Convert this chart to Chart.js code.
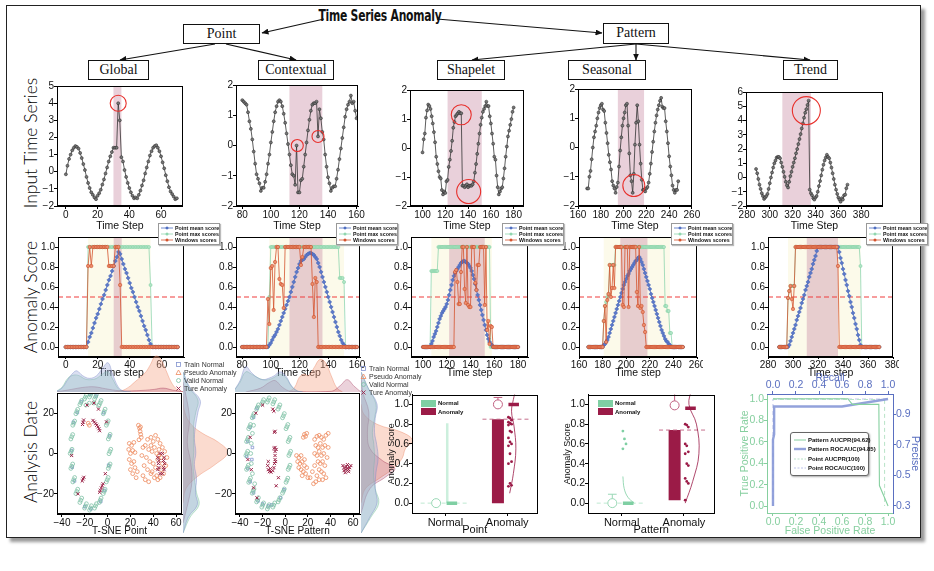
<!DOCTYPE html>
<html>
<head>
<meta charset="utf-8">
<script src="https://cdn.jsdelivr.net/npm/chart.js@4.4.1/dist/chart.umd.min.js"></script>
<style>
  html, body { margin: 0; padding: 0; background: #fff; }
  #stage { position: relative; width: 934px; height: 571px; overflow: hidden; font-family: 'Liberation Sans', Arial, sans-serif; color: #111; }
  #stage canvas, .abs { position: absolute; }
  .frame { left: 6px; top: 5px; width: 913px; height: 531px; border: 1px solid #222; box-shadow: 4px 4px 3px #9a9a9a; }
  .node { border: 1px solid #111; background: #fff; font-family: 'Liberation Serif', serif; font-size: 14px; text-align: center; box-sizing: border-box; height: 20px; line-height: 18px; }
  .rowlab { font-family: Lato, 'Liberation Sans', sans-serif; font-weight: 300; font-size: 17.5px; transform: translate(-50%, -50%) rotate(-90deg); white-space: nowrap; color: #000; }
  .lg { background: #fff; font-weight: bold; white-space: nowrap; }
  .lg > div { display: flex; align-items: center; }
  .lg svg { flex: none; }
</style>
</head>
<body>
<div id="stage">
  <div class="abs frame"></div>
  <svg class="abs" style="left:0;top:0" width="934" height="90">
    <defs>
      <marker id="ah" markerWidth="7" markerHeight="6" refX="6.5" refY="3" orient="auto" markerUnits="userSpaceOnUse">
        <path d="M0,0 L7,3 L0,6 z" fill="#111"/>
      </marker>
    </defs>
    <g stroke="#111" stroke-width="1.1">
      <line x1="324" y1="19" x2="262" y2="33" marker-end="url(#ah)"/>
      <line x1="437" y1="19" x2="602" y2="33" marker-end="url(#ah)"/>
      <line x1="215" y1="44" x2="120" y2="60" marker-end="url(#ah)"/>
      <line x1="226" y1="44" x2="296" y2="60" marker-end="url(#ah)"/>
      <line x1="636" y1="44" x2="472" y2="60" marker-end="url(#ah)"/>
      <line x1="636" y1="44" x2="636" y2="60" marker-end="url(#ah)"/>
      <line x1="636" y1="44" x2="810" y2="60" marker-end="url(#ah)"/>
    </g>
  </svg>
  <div class="abs" style="left:300px;top:7px;width:160px;text-align:center;font:bold 15px 'Liberation Sans Narrow','DejaVu Sans Condensed',sans-serif;letter-spacing:-0.3px;transform:scaleX(0.8)">Time Series Anomaly</div>
  <div class="abs node" style="left:183px;top:24px;width:77px">Point</div>
  <div class="abs node" style="left:603px;top:23px;width:66px;height:21px">Pattern</div>
  <div class="abs node" style="left:88px;top:60px;width:61px">Global</div>
  <div class="abs node" style="left:258px;top:60px;width:76px">Contextual</div>
  <div class="abs node" style="left:437px;top:60px;width:68px">Shapelet</div>
  <div class="abs node" style="left:568px;top:60px;width:78px">Seasonal</div>
  <div class="abs node" style="left:783px;top:60px;width:55px">Trend</div>
  <div class="abs rowlab" style="left:30px;top:143px">Input Time Series</div>
  <div class="abs rowlab" style="left:30px;top:297px">Anomaly Score</div>
  <div class="abs rowlab" style="left:30px;top:452px">Analysis Date</div>
</div>
<script>
// ---------------- data: input time series ----------------
const globalStart = 0;
const globalSeries = [-0.15,0.35,0.75,1.0,1.25,1.4,1.5,1.45,1.35,1.1,
  0.8,0.45,0.1,-0.3,-0.65,-0.95,-1.2,-1.35,-1.5,-1.6,
  -1.4,-1.25,-1.05,-0.75,-0.45,-0.1,0.25,0.6,0.9,1.15,
  1.4,1.4,1.4,4.0,3.0,0.85,0.6,0.1,-0.3,-0.65,
  -0.95,-1.2,-1.4,-1.55,-1.5,-1.55,-1.35,-1.1,-0.8,-0.5,
  -0.1,0.25,0.6,0.95,1.2,1.4,1.5,1.55,1.4,1.2,
  0.9,0.55,0.2,-0.2,-0.55,-0.9,-1.15,-1.3,-1.45,-1.6,-1.55];
const contextStart = 80;
const contextSeries = [1.5,1.45,1.4,1.35,1.1,0.8,0.55,0.2,-0.2,-0.6,
  -0.95,-1.1,-1.25,-1.5,-1.4,-1.4,-1.2,-0.95,-0.6,-0.3,
  0.1,0.45,0.8,1.1,1.3,1.45,1.5,1.45,1.3,1.05,
  0.75,0.4,0.05,-0.3,-0.65,-0.95,-1.0,-1.3,0.0,-1.55,
  -1.55,-1.15,-1.1,-0.7,-0.3,0.1,0.5,0.85,1.15,1.35,
  1.4,1.4,1.45,0.3,1.2,0.9,0.45,0.2,-0.3,-0.7,
  -1.05,-1.25,-1.5,-1.4,-1.35,-1.35,-1.1,-0.8,-0.45,-0.1,
  0.25,0.6,0.95,1.2,1.35,1.45,1.65,1.4,1.45,1.15,0.9];
const shapeletStart = 100;
const shapeletSeries = [-0.15,0.3,0.5,1.05,1.3,1.5,1.45,1.35,1.1,0.85,
  0.55,0.2,-0.3,-0.55,-0.8,-1.0,-1.05,-1.45,-1.6,-1.5,
  -1.55,-1.15,-1.1,-0.65,-0.4,-0.1,0.25,0.7,0.9,1.1,
  1.15,1.2,1.25,1.2,1.2,-1.3,-1.3,-1.35,-1.3,-1.25,
  -1.35,-1.3,-1.3,-1.3,-1.25,-1.15,-0.85,-0.55,-0.2,0.15,
  0.5,0.8,1.05,1.25,1.35,1.45,1.6,1.45,1.45,1.1,
  0.85,0.5,0.15,-0.3,-0.4,-0.95,-1.35,-1.6,-1.5,-1.4,
  -1.35,-1.05,-0.7,-0.3,0.05,0.4,0.6,0.8,1.0,1.25,1.4];
const seasonalStart = 168;
const seasonalSeries = [-1.4,-1.4,-1.0,-0.8,-0.4,0.0,0.35,0.55,0.75,1.0,
  1.2,1.35,1.45,1.5,1.3,1.25,0.85,0.5,0.15,-0.25,
  -0.5,-0.75,-1.15,-1.3,-1.4,-1.55,-1.35,-1.2,-0.65,-0.1,
  0.35,0.75,1.0,1.2,1.45,1.5,0.75,-0.2,-0.95,-1.15,
  -1.55,-0.9,0.1,0.85,1.45,0.9,0.1,-0.55,-1.1,-1.45,
  -1.45,-1.5,-1.4,-1.35,-1.2,-0.9,-0.55,-0.15,0.2,0.55,
  0.85,1.1,1.3,1.45,1.6,1.7,1.4,1.35,1.35,0.9,
  0.55,0.15,-0.3,-0.65,-0.95,-1.3,-1.45,-1.55,-1.45,-1.45,-1.15];
const trendStart = 288;
const trendSeries = [0.6,0.3,-0.1,-0.5,-0.8,-1.1,-1.3,-1.5,-1.4,-1.3,
  -1.15,-0.8,-0.4,0.0,0.35,0.7,1.0,1.2,1.4,1.45,
  1.45,1.35,1.05,0.75,0.4,0.05,-0.3,-0.55,-0.7,-0.3,
  0.1,0.4,0.75,1.05,1.35,1.7,2.0,2.35,2.7,3.05,
  3.45,3.8,4.2,4.55,4.8,5.1,5.4,-0.85,-1.1,-1.25,
  -1.45,-1.55,-1.4,-1.3,-1.0,-0.6,-0.25,0.15,0.55,0.9,
  1.2,1.4,1.6,1.45,1.35,1.05,0.7,0.3,-0.1,-0.5,
  -0.85,-1.15,-1.4,-1.55,-1.7,-1.45,-1.55,-1.25,-1.2,-0.75,-0.5];

// anomaly windows (pink) and circled anomalies [x, y]
const globalBand = [30, 35], contextBand = [113, 136], shapeletBand = [122, 152], seasonalBand = [195, 218], trendBand = [311, 336];
const globalMarks = [[33, 4.0]];
const contextMarks = [[118.5, 0.0], [133, 0.3]];
const shapeletMarks = [[134, 1.15], [140.5, -1.5]];
const seasonalMarks = [[209, -1.3]];
const trendMarks = [[332, 4.7]];

// ---------------- data: anomaly scores ----------------
const threshold = 0.5;
const scoreTicks = [0, 0.2, 0.4, 0.6, 0.8, 1.0];
const globalScoreStart = 0, contextScoreStart = 80, shapeletScoreStart = 100, seasonalScoreStart = 168, trendScoreStart = 289;
const globalSpread = [14, 53], contextSpread = [99, 151], shapeletSpread = [107, 158], seasonalSpread = [181, 237], trendSpread = [296, 354];

const globalMean = [0,0,0,0,0,0,0,0,0,0, 0,0,0,0,
  0.05,0.1,0.14,0.19,0.24,0.29,0.33,0.38,0.43,0.48,0.52,0.57,0.62,0.67,0.71,0.76,0.81,0.86,0.9,0.95,
  0.93,0.88,0.83,0.78,0.74,0.69,0.64,0.59,0.55,0.5,0.45,0.4,0.36,0.31,0.26,0.21,0.17,0.12,0.07,0.03,
  0,0,0,0,0,0,0,0,0,0, 0,0,0,0,0,0,0];
const globalMax = [0,0,0,0,0,0,0,0,0,0, 0,0,0,0,
  1,1,1,1,1,1,1,1,1,1, 1,1,1,1,1,1,1,1,1,1, 1,1,1,1,1,1,1,1,1,1, 1,1,1,1,1,1,1,1,1,
  0.62,
  0,0,0,0,0,0,0,0,0,0, 0,0,0,0,0,0,0];
const globalWin = [0,0,0,0,0,0,0,0,0,0, 0,0,0,0,
  0.81,1,0.81, 1,1,1,1,1,1,1,1,1,1, 0.81,0.81,0.81,0.81, 1,1,1, 0.62,
  0,0,0,0,0,0,0,0,0,0, 0,0,0,0,0,0,0,0,0,0, 0,0,0,0,0,0,0,0,0,0, 0,0,0,0,0,0];

const contextMean = [0,0,0,0,0,0,0,0,0,0, 0,0,0,0,0,0,0,0,0,
  0.02,0.04,0.07,0.1,0.12,0.15,0.18,0.22,0.26,0.3,0.34,0.38,0.42,0.46,0.5,0.55,0.6,0.65,0.7,0.75,
  0.79,0.83,0.86,0.87,0.88,0.9,0.92,0.93,0.94,0.94,0.93,0.92,0.9,0.88,0.84,0.8,0.75,0.7,0.65,0.6,
  0.55,0.5,0.45,0.4,0.35,0.3,0.25,0.2,0.15,0.11,0.07,0.04,0.02,
  0,0,0,0,0,0,0,0,0];
const contextMax = [0,0,0,0,0,0,0,0,0,0, 0,0,0,0,0,0,0,0,0,
  0.5,
  1,1,1,1,1,1,1,1,1,1, 1,1,1,1,1,1,1,1,1,1, 1,1,1,1,1,1,1,1,1,1, 1,1,1,1,1,1,1,1,1,1, 1,1,1,1,1,1,1,1,
  0.69,0.69,0.69,0.65,
  0,0,0,0,0,0,0,0,0];
const contextWin = [0,0,0,0,0,0,0,0,0,0, 0,0,0,0,0,0,0,0,
  0.48,0.23,0.79,0.81,0.37,0.85,1,1,0.68,0.63,0.62,0.39,1,
  1,1,1,1,1,1,1,1,1,1, 0.82,0.9, 1,1,1,1,1,1, 0.63,0.3,0.69,0.65,
  0,0,0,0,0,0,0,0,0,0, 0,0,0,0,0,0,0,0,0,0, 0,0,0,0,0,0,0,0];

const shapeletMean = [0,0,0,0,0,0,0,
  0.03,0.06,0.1,0.13,0.16,0.2,0.24,0.28,0.31,0.34,0.36,0.38,0.4,0.43,0.47,0.52,0.57,0.62,
  0.67,0.71,0.74,0.76,0.78,0.8,0.82,0.84,0.85,0.86,0.86,0.85,0.84,0.83,0.81,0.79,0.76,0.72,
  0.68,0.63,0.57,0.52,0.47,0.42,0.37,0.32,0.27,0.22,0.17,0.12,0.08,0.05,0.03,0.02,
  0,0,0,0,0,0,0,0,0,0, 0,0,0,0,0,0,0,0,0,0, 0,0];
const shapeletMax = [0,0,0,0,0,0,0,
  0.76,0.76,0.76,0.76,0.76,0.76,
  1,1,1,1,1,1,1,1,1,1, 1,1,1,1,1,1,1,1,1,1, 1,1,1,1,1,1,1,1,1,1, 1,1,1,1,1,1,1,1,1,1, 1,1,1,1,
  0,0,0,0,0,0,0,0,0,0, 0,0,0,0,0,0,0,0,0,0, 0,0,0,0];
const shapeletWin = [0,0,0,0,0,0,0,0,0,0, 0,0,0,0,0,0,0,0,0,0, 0,0,0,0,0,0,0,
  0.75,0.77,0.65,0.43,0.43,0.75,1,1,0.58,0.44,1,0.42,0.4,0.4,1,1,1,0.64,0.57,0.82,0.82,1,1,1,1,0.42,1,0.17,0.26,0.03,0.21,0.2,
  0,0,0,0,0,0,0,0,0,0, 0,0,0,0,0,0,0,0,0,0, 0,0];

const seasonalMean = [0,0,0,0,0,0,0,0,0,0, 0,0,0,
  0.02,0.03,0.05,0.07,0.1,0.14,0.18,0.22,0.26,0.3,0.34,0.38,0.42,0.46,0.5,0.54,0.58,0.62,0.65,0.68,
  0.71,0.73,0.76,0.78,0.8,0.82,0.84,0.86,0.87,0.89,0.9,
  0.88,0.85,0.82,0.78,0.74,0.7,0.66,0.62,0.58,0.53,0.49,0.45,0.41,0.37,0.33,0.29,0.25,0.21,0.17,
  0.14,0.11,0.08,0.06,0.05,0.03,0.02,
  0,0,0,0,0,0,0,0,0,0, 0];
const seasonalMax = [0,0,0,0,0,0,0,0,0,0, 0,0,0,
  0.26,0.41,0.45,0.5,0.53,0.82,0.82,0.82,0.82,0.82,
  1,1,1,1,1,1,1,1,1,1, 1,1,1,1,1,1,1,1,1,1, 1,1,1,1,1,1,1,1,1,1, 1,1,1,1,1,1,1,1,1,1, 1,1,
  0.41,0.41,0.36,0.36,0.14,0.14,
  0,0,0,0,0,0,0,0,0,0];
const seasonalWin = [0,0,0,0,0,0,0,0,0,0, 0,0,0,
  0.26,0.41,0.05,0.47,0.53,0.82,0.5,0.59,0.82,0.59,
  1,1,1,1,1,1, 0.42,0.4, 1,1,1, 0.4, 1,1,1,1,1,1, 0.55,0.41, 1, 0.39,0.41,0.35,0.22,0.15,
  0,0,0,0,0,0,0,0,0,0, 0,0,0,0,0,0,0,0,0,0, 0,0,0,0,0,0,0,0,0,0, 0,0];

const trendMean = [0,0,0,0,0,0,0,0,
  0.02,0.06,0.1,0.14,0.18,0.22,0.27,0.31,0.35,0.39,0.44,0.48,0.52,0.57,0.61,0.65,0.7,0.74,0.78,0.83,0.87,0.91,0.96,1.0,
  1,1,1,1,1,1,1,1,1,1, 1,1,1,1,1,1,
  0.95,0.89,0.84,0.78,0.73,0.67,0.62,0.56,0.51,0.45,0.4,0.34,0.29,0.23,0.18,0.12,0.07,0.02,
  0,0,0,0,0,0,0,0,0,0, 0,0,0,0,0];
const trendMax = [0,0,0,0,0,0,0,
  0.49,0.56,0.61,0.61,0.61,0.61,
  1,1,1,1,1,1,1,1,1,1, 1,1,1,1,1,1,1,1,1,1, 1,1,1,1,1,1,1,1,1,1, 1,1,1,1,1,1,1,1,1,1, 1,1,1,1,1,1,1,1,1,1, 1,1,
  0.81,
  0,0,0,0,0,0,0,0,0,0, 0,0,0,0,0];
const trendWin = [0,0,0,0,0,0,0,
  0.49,0.56,0.61,0.48,0.38,0.61,
  1,1,1,1,1,1,1,1,1,1, 1,1,1,1,1,1,1,1,1,1, 1,1,1,1,1,1,1,1,1,1, 1,1,1,1,
  0.81,
  0,0,0,0,0,0,0,0,0,0, 0,0,0,0,0,0,0,0,0,0, 0,0,0,0,0,0,0,0,0,0, 0,0,0];

// ---------------- data: t-SNE ----------------
const tsneXTicks = [-40, -20, 0, 20, 40, 60];
const tsneYTicks = [-20, 0, 20];
const pointValid = [[1.4,8.3],[2.2,9.5],[0.6,7.2],[-0.3,15],[0.5,16.2],[-1.1,14],[-3,20.8],[-2.2,22],[-3.8,19.7],
  [-6.5,25.2],[-5.7,26.3],[-7.3,24.2],[-10.6,28],[-9.8,29.2],[-11.4,27],[-15,29],[-14.2,30],[-15.8,28],
  [-19.4,28],[-18.6,29.1],[-20.2,27],[-23.5,25.2],[-22.7,26.3],[-24.3,24.2],[-27,20.8],[-26.2,21.9],[-27.8,19.7],
  [-29.7,15],[-28.9,16.1],[-30.5,14],[-31.4,8.3],[-30.6,9.4],[-32.2,7.2],[-32,1],[-31.2,2.1],[-32.8,0],
  [-31.4,-6.3],[-30.6,-5.2],[-32.2,-7.4],[-29.7,-13],[-28.9,-11.9],[-30.5,-14.1],[-27,-18.8],[-26.2,-17.7],[-27.8,-19.9],
  [-23.5,-23.2],[-22.7,-22.1],[-24.3,-24.3],[-19.4,-26],[-18.6,-24.9],[-20.2,-27.1],[-15,-27],[-14.2,-25.9],[-15.8,-28.1],
  [-10.6,-26],[-9.8,-24.9],[-11.4,-27.1],[-6.5,-23.2],[-5.7,-22.1],[-7.3,-24.3],[-3,-18.8],[-2.2,-17.7],[-3.8,-19.9],
  [-0.3,-13],[0.5,-11.9],[-1.1,-14.1],[1.4,-6.3],[2.2,-5.2],[0.6,-7.4],[2,1],[2.8,2.1],[1.2,-0.1],
  [-19,24],[-16,25],[-12,25],[-8,23.8]];
const pointTrain = [[-31.5,1.5],[-30,15.5],[-26.5,20.3],[-10,28.5],[-3.4,20.2],[0.9,-5.8],[-6,-23.8],[-20,-26.4],
  [-29,-13.6],[1.8,8.8],[-23,25.7],[-15.5,29.5],[-31,-6.8],[-2.6,-18.3],[-14.6,-27.5]];
const pointPseudo = [[27,14],[28,12.5],[28.5,11],[29,9.5],[29.5,8],[28.8,13.2],[27.5,6.8],[19,5],[21,4],[23,5.5],
  [18.5,2],[20,0],[22,1.5],[24,0.5],[19,-3],[21,-5],[23,-4],[20,-8],[22,-10],[24,-7],[25,-12],[26,-9],
  [33,4],[35,7],[38,8],[40,6],[42,9],[44,7],[46,5],[48,3],[36,2],[39,1],[41,3],[43,0],[45,-1],[50,1],[52,-2],
  [34,-2],[37,-4],[40,-5],[42,-7],[44,-3],[47,-8],[49,-10],[51,-6],[35,-8],[38,-10],[41,-12],[44,-13],[32,-6],
  [30,-1],[31,-11],[33,-13],[36,-14],[39,-9],[43,-11],[46,-12],[48,-5],[45,2],[47,-2],[38,4],[31,3],[-16,14],[-17,15]];
const pointTrue = [[-21.5,15.5],[-22,14.4],[-21,16.6],[-12.8,16.4],[-11.6,15.6],[-10.5,14.8],[-9.5,14],[-8.5,13.2],
  [-7.6,12.3],[-7,11.3],[-21.5,-12.6],[-22.2,-13.6],[-20.8,-11.8],[-7,-19.2],[-6.3,-18.2],[-5.5,-17.1],[-4.7,-16],
  [-4,-15],[-31.5,-1],[-1,15.7],[-12,25],[-8,22],[-18,24],[-2,-10],[-26,-20],
  [44,-2],[44.5,-5],[44,-8],[46,-10],[48,-10],[49.5,-8],[50,-5],[49.5,-2],[48,0],[46,0],[45,-3.5],[49,-3.5],[45,-7],[49,-7]];

const patternValid = [[4,0],[4.8,1.1],[3.2,-1],[3.4,6.9],[4.2,8],[2.6,5.9],[1.5,13.3],[2.3,14.4],[0.7,12.3],
  [-1.6,18.7],[-0.8,19.8],[-2.4,17.7],[-5.5,23],[-4.7,24.1],[-6.3,22],[-10.1,25.6],[-9.3,26.7],[-10.9,24.6],
  [-15,26.5],[-14.2,27.6],[-15.8,25.5],[-19.9,25.6],[-19.1,26.7],[-20.7,24.6],[-24.5,23],[-23.7,24.1],[-25.3,22],
  [-28.4,18.7],[-27.6,19.8],[-29.2,17.7],[-31.5,13.3],[-30.7,14.4],[-32.3,12.3],[-33.4,6.9],[-32.6,8],[-34.2,5.9],
  [-34,0],[-33.2,1.1],[-34.8,-1],[-33.4,-6.9],[-32.6,-5.8],[-34.2,-7.9],[-31.5,-13.3],[-30.7,-12.2],[-32.3,-14.3],
  [-28.4,-18.7],[-27.6,-17.6],[-29.2,-19.7],[-24.5,-23],[-23.7,-21.9],[-25.3,-24],[-19.9,-25.6],[-19.1,-24.5],[-20.7,-26.6],
  [-15,-26.5],[-14.2,-25.4],[-15.8,-27.5],[-10.1,-25.6],[-9.3,-24.5],[-10.9,-26.6],[-5.5,-23],[-4.7,-21.9],[-6.3,-24],
  [-1.6,-18.7],[-0.8,-17.6],[-2.4,-19.7],[1.5,-13.3],[2.3,-12.2],[0.7,-14.3],[3.4,-6.9],[4.2,-5.8],[2.6,-7.9],
  [-29,10],[-30,5],[-30.5,0],[-30,-5],[-29,-10],[-27,-15],[-28,14]];
const patternTrain = [[-33,6],[-34,-1.5],[-33,-7.5],[-31,-14],[-28,-19.5],[-24,-23.5],[-20,-25],[-31,13],[-28,18],
  [-4,-22],[-1,-18],[-15,-26],[-29,3],[-29.5,-3],[-12,-25.5],[-25,22.5]];
const patternPseudo = [[10,-1],[12,-2],[14,-1],[11,-4],[13,-5],[15,-4],[17,-6],[12,-7],[14,-8],[16,-9],[18,-10],
  [15,-11],[19,-7],[20,-12],[17,-3],[16,8],[17,9.5],[18,8.5],[19,10],[26,7],[28,8.5],[30,9],[32,8],[34,7],[36,9],
  [38,10],[27,4],[29,3],[31,5],[33,3],[35,4],[26,0],[28,-1],[30,1],[32,-1],[34,0],[29,-4],[31,-5],[33,-4],[35,-6],
  [30,-8],[32,-9],[34,-10],[28,-11],[30,-13],[27,-14],[25,-15],[36,-12],[33,-13],[37,-2],[38,3],[24,-9],[26,-6],[22,-12]];
const patternTrue = [[-9,3],[-9,1],[-9,-1],[-9,-3],[-9.5,-5],[-10,-7],[-11,-8.5],[-12.5,-9.2],[-14,-9],[-15,-8],
  [-15.5,-6],[-15,-4],[-8,2],[-10,2.5],[-8.5,-4],[-13,-7.5],[-11,22],[-10,21],[-9,11],[-9.5,10.5],
  [-30,-8],[-28,-17],[-25,-22],[-6,-12],[-8,-16],[-33,-3],[-31,8],[-26,20],[-20,24],
  [51,-6],[52,-7],[53,-8],[54,-6.5],[55,-7.5],[56,-9],[57,-7],[58,-6],[53,-9.5],[55,-5.5],[52,-8.5],[56,-8]];

// marginal densities: top [x, density], side [y, density]
const pointTopTrain = [[-46,0],[-40,0.12],[-35,0.38],[-30,0.6],[-27,0.65],[-22,0.5],[-16,0.42],[-10,0.5],[-5,0.72],[0,0.9],[4,0.55],[9,0.15],[14,0.02],[20,0]];
const pointTopValid = [[-46,0],[-40,0.15],[-35,0.42],[-30,0.52],[-25,0.5],[-20,0.4],[-15,0.38],[-10,0.42],[-5,0.55],[0,0.62],[4,0.4],[9,0.1],[14,0.01],[20,0]];
const pointTopPseudo = [[5,0],[12,0.04],[18,0.15],[23,0.3],[28,0.45],[33,0.62],[37,0.85],[41,1.1],[45,1.05],[50,0.7],[55,0.3],[60,0.08],[66,0]];
const pointTopTrue = [[-46,0],[-35,0.06],[-22,0.14],[-12,0.16],[-2,0.1],[10,0.04],[25,0.04],[40,0.08],[48,0.12],[56,0.06],[66,0]];
const pointSideTrain = [[-40,0],[-32,0.15],[-26,0.4],[-20,0.35],[-13,0.38],[-6,0.32],[0,0.36],[7,0.32],[14,0.36],[20,0.42],[26,0.48],[32,0.2],[40,0]];
const pointSideValid = [[-40,0],[-32,0.2],[-26,0.45],[-20,0.38],[-13,0.32],[-6,0.28],[0,0.3],[7,0.3],[14,0.3],[20,0.36],[26,0.42],[32,0.18],[40,0]];
const pointSidePseudo = [[-25,0],[-18,0.08],[-12,0.4],[-6,0.9],[0,1.25],[5,1.0],[10,0.5],[15,0.18],[22,0.02],[28,0]];
const pointSideTrue = [[-35,0],[-22,0.18],[-14,0.25],[-5,0.22],[5,0.12],[15,0.18],[22,0.15],[35,0]];
const patternTopTrain = [[-46,0],[-40,0.35],[-35,0.78],[-30,0.6],[-25,0.45],[-20,0.38],[-15,0.42],[-10,0.5],[-5,0.62],[0,0.5],[5,0.2],[10,0.04],[15,0]];
const patternTopValid = [[-46,0],[-40,0.3],[-35,0.62],[-30,0.55],[-25,0.45],[-20,0.38],[-15,0.38],[-10,0.45],[-5,0.55],[0,0.45],[5,0.18],[10,0.03],[15,0]];
const patternTopPseudo = [[3,0],[8,0.15],[12,0.45],[16,0.55],[20,0.5],[25,0.75],[30,1.0],[35,0.9],[40,0.5],[45,0.12],[50,0]];
const patternTopTrue = [[-35,0],[-22,0.12],[-14,0.3],[-9,0.35],[-3,0.15],[5,0.02],[40,0.02],[48,0.2],[54,0.38],[60,0.18],[66,0]];
const patternSideTrain = [[-40,0],[-32,0.25],[-25,0.45],[-18,0.4],[-10,0.42],[-3,0.48],[4,0.44],[10,0.38],[17,0.4],[24,0.45],[32,0.2],[40,0]];
const patternSideValid = [[-40,0],[-32,0.28],[-25,0.5],[-18,0.4],[-10,0.35],[-3,0.38],[4,0.36],[10,0.32],[17,0.38],[24,0.42],[32,0.2],[40,0]];
const patternSidePseudo = [[-25,0],[-18,0.12],[-13,0.5],[-8,0.9],[-3,1.15],[2,1.25],[6,1.45],[10,1.15],[14,0.45],[19,0.08],[24,0]];
const patternSideTrue = [[-30,0],[-18,0.25],[-12,0.7],[-8,0.95],[-4,0.6],[2,0.25],[10,0.18],[20,0.22],[30,0.05],[38,0]];

// ---------------- data: score distributions ----------------
const boxCategories = ['Normal', 'Anomaly'];
const boxTicks = [0, 0.2, 0.4, 0.6, 0.8, 1.0];
const pointBarLows = [0, 0], pointBarHighs = [0.81, 0.85];
const pointMeans = [0, 1.0], pointWhiskers = [0, 1.07], pointStrips = [0, 1.0], pointMedians = [0, 0.85];
const pointNormalDots = [];
const pointAnomalyDots = [0.87,0.86,0.84,0.82,0.81,0.8,0.79,0.73,0.72,0.66,0.62,0.6,0.58,0.5,0.42,0.4,0.2,0.18,0.17];
const pointNormalViolin = [];
const pointAnomalyViolin = [[0.02,0.1],[0.08,0.3],[0.12,0.55],[0.09,0.78],[0.05,0.93],[0.08,1.05],[0.12,1.15]];
const patternBarLows = [0, 0.03], patternBarHighs = [0, 0.74];
const patternMeans = [0, 0.99], patternWhiskers = [0.09, 1.12], patternStrips = [0, 0.96], patternMedians = [0, 0.74];
const patternNormalDots = [0.73, 0.65, 0.6, 0.55];
const patternAnomalyDots = [0.8,0.79,0.77,0.6,0.58,0.52,0.5,0.4,0.38,0.25,0.22,0.2,0.03];
const patternNormalViolin = [[0.0,0.27],[0.02,0.15],[0.08,0.06],[0.18,0.0]];
const patternAnomalyViolin = [[0.0,0.0],[0.12,0.22],[0.22,0.5],[0.18,0.8],[0.06,1.0],[0.1,1.15]];

// ---------------- data: ROC / PR ----------------
const rocTicks = [0, 0.2, 0.4, 0.6, 0.8, 1.0];
const precTicks = [0.3, 0.5, 0.7, 0.9];
const prRecall = [0, 0.65, 0.69, 0.92, 0.925, 1.0];
const prPrecision = [1.0, 1.0, 0.963, 0.963, 0.433, 0.3];
const rocFpr = [0, 0, 0.01, 0.01, 0.6, 1.0];
const rocTpr = [0, 0.62, 0.67, 0.93, 0.93, 1.0];
const pointPrRecall = [0, 0.97, 0.97], pointPrPrecision = [0.995, 0.995, 0.3];
const pointRocFpr = [0, 0, 1], pointRocTpr = [0, 1, 1];

// ---------------- drawing ----------------
const FONT = "'Liberation Sans', Arial, sans-serif";
const PINK = 'rgba(206,150,172,0.45)';
const IVORY = 'rgba(250,246,220,0.6)';
const CRIMSON = '#9b1b47', GREEN = '#7fcfa3';
const GREEN_AX = '#86cf9f', BLUE_AX = '#5a6fc0';
const stage = document.getElementById('stage');
Chart.defaults.font.family = FONT;

const framePlugin = {
  id: 'frame',
  afterDraw(chart, args, o) {
    if (!o || !o.color) return;
    const a = chart.chartArea, ctx = chart.ctx;
    ctx.save();
    ctx.strokeStyle = o.color;
    ctx.lineWidth = 1;
    ctx.strokeRect(Math.round(a.left) + 0.5, Math.round(a.top) + 0.5, Math.round(a.right - a.left) - 1, Math.round(a.bottom - a.top) - 1);
    ctx.restore();
  }
};
const bandsPlugin = {
  id: 'bands',
  beforeDatasetsDraw(chart, args, o) {
    if (!o || !o.items) return;
    const a = chart.chartArea, ctx = chart.ctx, x = chart.scales.x;
    ctx.save();
    ctx.beginPath(); ctx.rect(a.left, a.top, a.right - a.left, a.bottom - a.top); ctx.clip();
    for (const b of o.items) {
      const x0 = x.getPixelForValue(b.from), x1 = x.getPixelForValue(b.to);
      ctx.fillStyle = b.color;
      ctx.fillRect(x0, a.top, x1 - x0, a.bottom - a.top);
    }
    ctx.restore();
  }
};
Chart.register(framePlugin, bandsPlugin);

const fmt = dec => v => (v < 0 ? '\u2212' : '') + Math.abs(v).toFixed(dec);
const zip = (xs, ys) => xs.map((x, i) => ({x, y: ys[i]}));
const pairs = arr => arr.map(q => ({x: q[0], y: q[1]}));

function ax(pos, min, max, size, ticks, o = {}) {
  const col = o.color || '#000';
  const txt = o.color || '#111';
  return {
    type: 'linear', position: pos, min, max, offset: false,
    grid: {display: true, drawOnChartArea: false, drawTicks: true, tickLength: o.tl == null ? 3 : o.tl, color: col, offset: false},
    border: {display: true, color: col, width: 1},
    ticks: {color: txt, font: {size: o.fs || 10, family: FONT}, padding: o.pad == null ? 0 : o.pad,
      maxRotation: 0, autoSkip: false, callback: o.fmt || fmt(0)},
    title: {display: !!o.title, text: o.title || '', color: txt, font: {size: o.tfs || 10, family: FONT}, padding: 0},
    afterBuildTicks: s => { s.ticks = ticks.map(v => ({value: v})); },
    afterFit: s => {
      if (s.isHorizontal()) s.height = size; else s.width = size;
      s.paddingLeft = s.paddingRight = s.paddingTop = s.paddingBottom = 0;
    }
  };
}

// plot = [l, t, r, b] of the plotting area in page pixels, sz = axis sizes, ex = free room
function mount(plot, sz, ex, cfg) {
  const m = sz.map((s, i) => s + ex[i]);
  const w = plot[2] - plot[0] + m[0] + m[2], h = plot[3] - plot[1] + m[1] + m[3];
  const c = document.createElement('canvas');
  c.width = w; c.height = h;
  c.style.left = (plot[0] - m[0]) + 'px'; c.style.top = (plot[1] - m[1]) + 'px';
  c.style.width = w + 'px'; c.style.height = h + 'px';
  stage.appendChild(c);
  const o = cfg.options || (cfg.options = {});
  o.responsive = false; o.maintainAspectRatio = false; o.animation = false; o.devicePixelRatio = 1; o.events = [];
  o.layout = {padding: {left: ex[0], top: ex[1], right: ex[2], bottom: ex[3]}};
  o.plugins = Object.assign({legend: {display: false}, tooltip: {enabled: false}}, o.plugins || {});
  return new Chart(c, cfg);
}

// ---- row 1
function inputChart(p) {
  mount(p.plot, [22, 0, 0, 26], [6, 8, 8, 2], {
    type: 'scatter',
    data: {datasets: [
      {data: pairs(p.marks), pointRadius: p.radii, pointBackgroundColor: 'rgba(0,0,0,0)', pointBorderColor: '#e8302c', pointBorderWidth: 1.1, clip: false},
      {type: 'line', data: p.vals.map((v, i) => ({x: p.start + i, y: v})), borderColor: '#333', borderWidth: 0.8,
        pointRadius: 1.5, pointBackgroundColor: '#777', pointBorderColor: '#222', pointBorderWidth: 0.5, tension: 0}
    ]},
    options: {
      plugins: {bands: {items: [{from: p.band[0], to: p.band[1], color: PINK}]}, frame: {color: '#000'}},
      scales: {
        x: ax('bottom', p.xr[0], p.xr[1], 26, p.xt, {title: 'Time Step', tfs: 10.5}),
        y: ax('left', p.yr[0], p.yr[1], 22, p.yt)
      }
    }
  });
}
[
  {plot: [57, 85, 184, 206], start: globalStart, vals: globalSeries, xr: [-5.6, 73.8], xt: [0, 20, 40, 60], yr: [-2, 5], yt: [-2, -1, 0, 1, 2, 3, 4, 5], band: globalBand, marks: globalMarks, radii: [8]},
  {plot: [236, 85, 358, 206], start: contextStart, vals: contextSeries, xr: [75.6, 161], xt: [80, 100, 120, 140, 160], yr: [-2, 2], yt: [-2, -1, 0, 1, 2], band: contextBand, marks: contextMarks, radii: [6, 6]},
  {plot: [410, 85, 529, 206], start: shapeletStart, vals: shapeletSeries, xr: [89, 189], xt: [100, 120, 140, 160, 180], yr: [-2, 2], yt: [-2, -1, 0, 1, 2], band: shapeletBand, marks: shapeletMarks, radii: [10, 12]},
  {plot: [578, 85, 696, 206], start: seasonalStart, vals: seasonalSeries, xr: [160, 260], xt: [160, 180, 200, 220, 240, 260], yr: [-2, 2], yt: [-2, -1, 0, 1, 2], band: seasonalBand, marks: seasonalMarks, radii: [11]},
  {plot: [746, 85, 890, 206], start: trendStart, vals: trendSeries, xr: [279.2, 399], xt: [280, 300, 320, 340, 360, 380], yr: [-2, 6], yt: [-2, -1, 0, 1, 2, 3, 4, 5, 6], band: trendBand, marks: trendMarks, radii: [14]}
].forEach(inputChart);

// ---- row 2
function scoreChart(p) {
  const pts = vals => vals.map((v, i) => ({x: p.start + i, y: v}));
  mount(p.plot, [26, 0, 0, 22], [6, 6, 6, 2], {
    type: 'scatter',
    data: {datasets: [
      {type: 'line', data: pts(p.win), borderColor: '#d4532d', borderWidth: 0.8, pointRadius: 1.7, pointBackgroundColor: '#ec8d6c', pointBorderColor: '#c4431f', pointBorderWidth: 0.5},
      {type: 'line', data: pts(p.mean), borderColor: '#4d6cc0', borderWidth: 0.8, pointStyle: 'rectRot', pointRadius: 2.1, pointBackgroundColor: '#5b78c8', pointBorderColor: '#3a5ab0', pointBorderWidth: 0.4},
      {type: 'line', data: pts(p.max), borderColor: '#8fd6ae', borderWidth: 0.8, pointRadius: 1.6, pointBackgroundColor: '#b0e4c6', pointBorderColor: '#7ccf9f', pointBorderWidth: 0.5},
      {type: 'line', data: [{x: p.xr[0], y: threshold}, {x: p.xr[1], y: threshold}], borderColor: '#f03c3c', borderWidth: 1.1, borderDash: [5, 3], pointRadius: 0}
    ]},
    options: {
      plugins: {bands: {items: [{from: p.spread[0], to: p.spread[1], color: IVORY}, {from: p.band[0], to: p.band[1], color: PINK}]}, frame: {color: '#000'}},
      scales: {
        x: ax('bottom', p.xr[0], p.xr[1], 22, p.xt, {title: 'Time step', tfs: 10.5, tl: 2}),
        y: ax('left', -0.1, 1.1, 26, scoreTicks, {fmt: fmt(1)})
      }
    }
  });
}
[
  {plot: [58, 237, 184, 357], start: globalScoreStart, mean: globalMean, max: globalMax, win: globalWin, xr: [-4.8, 73.9], xt: [0, 20, 40, 60], spread: globalSpread, band: globalBand},
  {plot: [236, 237, 360, 357], start: contextScoreStart, mean: contextMean, max: contextMax, win: contextWin, xr: [75.8, 162.1], xt: [80, 100, 120, 140, 160], spread: contextSpread, band: contextBand},
  {plot: [411, 237, 528, 357], start: shapeletScoreStart, mean: shapeletMean, max: shapeletMax, win: shapeletWin, xr: [89.9, 188.4], xt: [100, 120, 140, 160, 180], spread: shapeletSpread, band: shapeletBand},
  {plot: [579, 237, 697, 357], start: seasonalScoreStart, mean: seasonalMean, max: seasonalMax, win: seasonalWin, xr: [160, 260], xt: [160, 180, 200, 220, 240, 260], spread: seasonalSpread, band: seasonalBand},
  {plot: [768, 237, 893, 357], start: trendScoreStart, mean: trendMean, max: trendMax, win: trendWin, xr: [280, 380], xt: [280, 300, 320, 340, 360, 380], spread: trendSpread, band: trendBand}
].forEach(scoreChart);

// ---- row 3: t-SNE with marginal densities
const KDE = {
  train: ['rgba(150,162,215,0.35)', 'rgba(120,135,200,0.7)'],
  valid: ['rgba(140,205,175,0.3)', 'rgba(110,185,150,0.7)'],
  pseudo: ['rgba(245,165,135,0.4)', 'rgba(235,135,100,0.7)'],
  trueA: ['rgba(165,50,90,0.22)', 'rgba(155,35,72,0.6)']
};
function kdeSets(groups, side) {
  return ['train', 'valid', 'trueA', 'pseudo'].map(k => ({
    data: groups[k].map(q => side ? {x: q[1], y: q[0]} : {x: q[0], y: q[1]}),
    fill: 'origin', backgroundColor: KDE[k][0], borderColor: KDE[k][1], borderWidth: 0.6, pointRadius: 0, tension: 0.4
  }));
}
function tsneChart(p) {
  const [l, t, r, b] = p.plot;
  const ppu = (b - t) / 60;
  mount([l, t - 52, r, t], [0, 0, 0, 0], [0, 0, 0, 0], {
    type: 'line',
    data: {datasets: kdeSets(p.top, false)},
    options: {scales: {x: {type: 'linear', display: false, min: p.xr[0], max: p.xr[1]}, y: {type: 'linear', display: false, min: 0, max: 1.6}}}
  });
  mount([r, t - 20, r + p.sideW, b + 20], [0, 0, 0, 0], [0, 0, 0, 0], {
    type: 'line',
    data: {datasets: kdeSets(p.side, true)},
    options: {indexAxis: 'y', scales: {x: {type: 'linear', display: false, min: 0, max: 1.6 * p.sideW / 57}, y: {type: 'linear', display: false, min: -30 - 20 / ppu, max: 30 + 20 / ppu}}}
  });
  mount(p.plot, [20, 0, 0, 24], [4, 4, 4, 2], {
    type: 'scatter',
    data: {datasets: [
      {data: pairs(p.trueA), pointStyle: 'crossRot', pointRadius: 2.2, pointBorderColor: '#9b2348', pointBorderWidth: 1},
      {data: pairs(p.pseudo), pointRadius: 1.9, pointBackgroundColor: 'rgba(0,0,0,0)', pointBorderColor: '#ee8a5e', pointBorderWidth: 0.8},
      {data: pairs(p.valid), pointRadius: 1.9, pointBackgroundColor: 'rgba(0,0,0,0)', pointBorderColor: '#7fc2a6', pointBorderWidth: 0.8},
      {data: pairs(p.train), pointStyle: 'rect', pointRadius: 1.8, pointBackgroundColor: 'rgba(0,0,0,0)', pointBorderColor: '#8393cf', pointBorderWidth: 0.8}
    ]},
    options: {
      plugins: {frame: {color: '#000'}},
      scales: {x: ax('bottom', p.xr[0], p.xr[1], 23, tsneXTicks, {title: p.title, tfs: 10}), y: ax('left', -30, 30, 20, tsneYTicks)}
    }
  });
}
tsneChart({plot: [57, 392, 183, 513], xr: [-44.35, 65.2], title: 'T-SNE Point', sideW: 57,
  train: pointTrain, valid: pointValid, pseudo: pointPseudo, trueA: pointTrue,
  top: {train: pointTopTrain, valid: pointTopValid, pseudo: pointTopPseudo, trueA: pointTopTrue},
  side: {train: pointSideTrain, valid: pointSideValid, pseudo: pointSidePseudo, trueA: pointSideTrue}});
tsneChart({plot: [235, 392, 361, 513], xr: [-44.4, 66.1], title: 'T-SNE Pattern', sideW: 57,
  train: patternTrain, valid: patternValid, pseudo: patternPseudo, trueA: patternTrue,
  top: {train: patternTopTrain, valid: patternTopValid, pseudo: patternTopPseudo, trueA: patternTopTrue},
  side: {train: patternSideTrain, valid: patternSideValid, pseudo: patternSidePseudo, trueA: patternSideTrue}});

// ---- row 3: score distributions (bars drawn as thick butt-capped segments)
function boxChart(p) {
  const pt = (x, y) => ({x, y});
  const seg = (a, b, color, width, dash) => ({type: 'line', data: [a, b], borderColor: color, borderWidth: width, borderDash: dash || [], borderCapStyle: 'butt', pointRadius: 0});
  const ds = [];
  [0, 1].forEach(c => {
    const col = c ? CRIMSON : GREEN;
    const soft = c ? '#c06080' : '#9ad8b6';
    const v = c ? p.violinA : p.violinN;
    if (v.length) ds.push({type: 'line', data: v.map(q => pt(c + 0.02 + q[0], q[1])), borderColor: col, borderWidth: 0.8, pointRadius: 0, tension: 0.4});
    const dots = c ? p.dotsA : p.dotsN;
    if (dots.length) ds.push({data: dots.map((y, i) => pt(c + 0.02 + (i % 3) * 0.025, y)), pointRadius: 1.4, pointBackgroundColor: col, pointBorderWidth: 0});
    ds.push(seg(pt(c + 0.02, p.strips[c]), pt(c + 0.19, p.strips[c]), col, 3.5));
    const mx = c - 0.15;
    ds.push({data: [pt(mx, p.means[c])], pointRadius: 4.5, pointBackgroundColor: '#fff', pointBorderColor: soft, pointBorderWidth: 1});
    if (p.whiskers[c] > p.means[c]) {
      ds.push(seg(pt(mx, p.means[c]), pt(mx, p.whiskers[c]), soft, 1));
      ds.push(seg(pt(mx - 0.07, p.whiskers[c]), pt(mx + 0.07, p.whiskers[c]), soft, 1));
    }
    ds.push(seg(pt(c - 0.4, p.medians[c]), pt(c + 0.35, p.medians[c]), c ? soft : '#b8e6cc', 0.9, [4, 3]));
    if (p.highs[c] > p.lows[c]) {
      const bx = c ? mx : c + 0.03;
      ds.push(seg(pt(bx, p.lows[c]), pt(bx, p.highs[c]), c ? CRIMSON : 'rgba(170,228,198,0.6)', c ? 12 : 2.5));
    }
  });
  mount(p.plot, [26, 0, 0, 24], [4, 4, 4, 2], {
    type: 'scatter',
    data: {datasets: ds},
    options: {
      plugins: {frame: {color: '#000'}},
      scales: {
        x: ax('bottom', -0.54, 1.49, 24, [0, 1], {fmt: v => boxCategories[v], fs: 11, title: p.title, tfs: 11}),
        y: ax('left', -0.1, 1.1, 26, boxTicks, {fmt: fmt(1), fs: 10.5, title: 'Anomaly Score', tfs: 9})
      }
    }
  });
}
boxChart({plot: [412, 393, 539, 513], title: 'Point', lows: pointBarLows, highs: pointBarHighs, means: pointMeans,
  whiskers: pointWhiskers, strips: pointStrips, medians: pointMedians, dotsN: pointNormalDots, dotsA: pointAnomalyDots,
  violinN: pointNormalViolin, violinA: pointAnomalyViolin});
boxChart({plot: [588, 393, 716, 513], title: 'Pattern', lows: patternBarLows, highs: patternBarHighs, means: patternMeans,
  whiskers: patternWhiskers, strips: patternStrips, medians: patternMedians, dotsN: patternNormalDots, dotsA: patternAnomalyDots,
  violinN: patternNormalViolin, violinA: patternAnomalyViolin});

// ---- row 3: ROC and PR curves
mount([767, 394, 893, 513], [28, 22, 28, 24], [2, 2, 2, 2], {
  type: 'scatter',
  data: {datasets: [
    {type: 'line', data: zip(prRecall, prPrecision), xAxisID: 'x2', yAxisID: 'y2', borderColor: '#86d0a0', borderWidth: 1.1, pointRadius: 0},
    {type: 'line', data: zip(rocFpr, rocTpr), borderColor: 'rgba(135,152,215,0.9)', borderWidth: 2.4, pointRadius: 0},
    {type: 'line', data: zip(pointPrRecall, pointPrPrecision), xAxisID: 'x2', yAxisID: 'y2', borderColor: '#b8e3c7', borderWidth: 1, borderDash: [4, 3], pointRadius: 0},
    {type: 'line', data: zip(pointRocFpr, pointRocTpr), borderColor: '#bcc3ea', borderWidth: 1, borderDash: [4, 3], pointRadius: 0}
  ]},
  options: {scales: {
    x: ax('bottom', -0.052, 1.043, 24, rocTicks, {color: GREEN_AX, fmt: fmt(1), fs: 10.5, title: 'False Positive Rate', tfs: 10.5}),
    y: ax('left', -0.065, 1.047, 28, rocTicks, {color: GREEN_AX, fmt: fmt(1), fs: 10.5, title: 'True Positive Rate', tfs: 10.5}),
    x2: ax('top', -0.052, 1.043, 22, rocTicks, {color: BLUE_AX, fmt: fmt(1), fs: 10.5, title: 'Recall', tfs: 10.5}),
    y2: ax('right', 0.254, 1.031, 28, precTicks, {color: BLUE_AX, fmt: fmt(1), fs: 10.5, title: 'Precise', tfs: 10.5})
  }}
});

// ---------------- legends (html) ----------------
function lineSym(color, w, dash, marker) {
  const mk = marker === 'circ' ? `<circle cx="6" cy="3" r="1.5" fill="${color}"/>` : marker === 'dia' ? `<path d="M6,1.2 L7.8,3 L6,4.8 L4.2,3z" fill="${color}"/>` : '';
  return `<svg width="12" height="6"><line x1="0" y1="3" x2="12" y2="3" stroke="${color}" stroke-width="${w}" ${dash ? 'stroke-dasharray="2,1.5"' : ''}/>${mk}</svg>`;
}
function addLegend(left, top, css, rows) {
  const d = document.createElement('div');
  d.className = 'abs lg';
  d.style.cssText = `left:${left}px;top:${top}px;${css}`;
  d.innerHTML = rows.map(r => `<div style="height:${r.h}px">${r.sym}<span style="margin-left:2px">${r.text}</span></div>`).join('');
  stage.appendChild(d);
}
const scoreLegendRows = [
  {sym: lineSym('#4d6cc0', 0.8, false, 'dia'), text: 'Point mean score', h: 6},
  {sym: lineSym('#8fd6ae', 0.8, false, 'circ'), text: 'Point max scores', h: 6},
  {sym: lineSym('#d4532d', 0.8, false, 'circ'), text: 'Windows scores', h: 6}
];
[[158, 223], [336, 223], [502, 223], [671, 223], [866, 223]].forEach(p =>
  addLegend(p[0], p[1], 'width:56px;padding:1px 2px;border:1px solid #999;box-shadow:1px 1px 1px #bbb;font-size:5.3px;', scoreLegendRows));

const mk = s => `<svg width="7" height="7">${s}</svg>`;
const tsneRows = [
  {sym: mk('<rect x="1.5" y="1.5" width="4" height="4" fill="none" stroke="#8393cf" stroke-width="0.8"/>'), text: 'Train Normal', h: 8},
  {sym: mk('<path d="M3.5,1 L6,5.5 L1,5.5z" fill="none" stroke="#ee8a5e" stroke-width="0.8"/>'), text: 'Pseudo Anomaly', h: 8},
  {sym: mk('<circle cx="3.5" cy="3.5" r="2" fill="none" stroke="#7fc2a6" stroke-width="0.8"/>'), text: 'Valid Normal', h: 8},
  {sym: mk('<path d="M1.5,1.5 L5.5,5.5 M5.5,1.5 L1.5,5.5" stroke="#9b2348" stroke-width="0.9"/>'), text: 'Ture Anomaly', h: 8}
];
addLegend(175, 360, 'background:transparent;font-weight:normal;font-size:7px;color:#333;', tsneRows);
addLegend(360, 364, 'background:transparent;font-weight:normal;font-size:7px;color:#333;', tsneRows);

const rectSym = c => `<svg width="15" height="7"><rect width="15" height="7" fill="${c}"/></svg>`;
const boxRows = [{sym: rectSym(GREEN), text: 'Normal', h: 8.5}, {sym: rectSym(CRIMSON), text: 'Anomaly', h: 8.5}];
addLegend(421, 399, 'background:transparent;font-size:6px;', boxRows);
addLegend(598, 399, 'background:transparent;font-size:6px;', boxRows);

addLegend(790, 432, 'width:71px;height:38px;padding:2px 3px;border:1px solid #666;border-radius:3px;box-shadow:1px 1px 2px #aaa;font-size:6px;', [
  {sym: lineSym('#86d0a0', 1, false, ''), text: 'Pattern AUCPR(94.62)', h: 9.5},
  {sym: lineSym('rgba(135,152,215,0.9)', 2.4, false, ''), text: 'Pattern ROCAUC(94.85)', h: 9.5},
  {sym: lineSym('#b8e3c7', 1, true, ''), text: 'Point AUCPR(100)', h: 9.5},
  {sym: lineSym('#bcc3ea', 1, true, ''), text: 'Point ROCAUC(100)', h: 9.5}
]);
</script>
</body>
</html>
